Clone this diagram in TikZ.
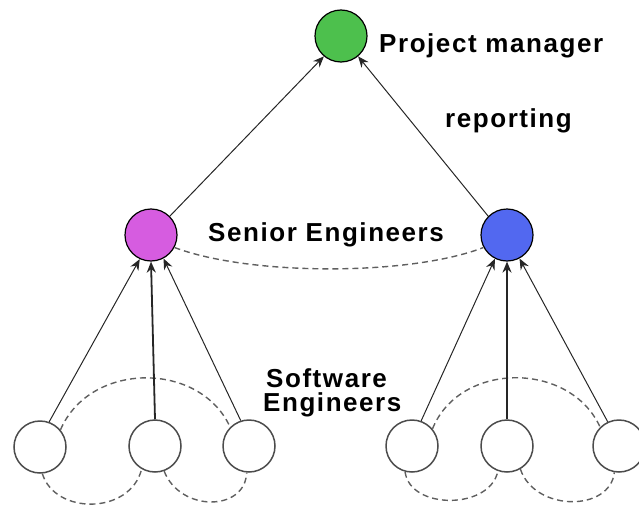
\documentclass[tikz,border=0pt]{standalone}
\usepackage{fontspec}
\newfontfamily\lab[LetterSpace=6]{Liberation Sans}
\usetikzlibrary{arrows.meta}
\definecolor{pmgreen}{RGB}{77,192,77}
\definecolor{semag}{RGB}{214,92,224}
\definecolor{seblue}{RGB}{82,104,240}
\definecolor{dashgray}{RGB}{95,95,95}
\tikzset{reporttip/.tip={Stealth[length=11pt,width=9pt]}}
\begin{document}
\begin{tikzpicture}[x=1pt,y=-1pt,
  person/.style={circle,draw=black,line width=1.2pt,minimum size=52pt,inner sep=0pt},
  worker/.style={circle,draw=black!70,line width=1.5pt,minimum size=52pt,inner sep=0pt,fill=white},
  report/.style={draw=black!85,line width=1pt,arrows={-reporttip}},
  reportthick/.style={report,line width=1.8pt},
  peer/.style={draw=dashgray,line width=1.4pt,dash pattern=on 6pt off 4pt},
  txt/.style={font=\lab\fontsize{26}{27}\selectfont\bfseries,inner sep=0pt}]
\useasboundingbox (0,0) rectangle (639,508);
% nodes
\node[person,fill=pmgreen] (pm) at (341,36) {};
\node[person,fill=semag] (sl) at (151,235) {};
\node[person,fill=seblue] (sr) at (507,235) {};
\node[worker] (a1) at (40,447) {};
\node[worker] (a2) at (155,446) {};
\node[worker] (a3) at (249,446) {};
\node[worker] (b1) at (412,446) {};
\node[worker] (b2) at (507,446) {};
\node[worker] (b3) at (619,446) {};
% labels
\node[txt,anchor=base west] (lpm) at (379,53) {Project manager};
\node[txt,anchor=base west] (lrep) at (445,128) {reporting};
\node[txt,anchor=base west] (lse) at (208,241) {Senior Engineers};
\node[txt,anchor=base west] (lsw1) at (266,387) {Software};
\node[txt,anchor=base west] (lsw2) at (263,411) {Engineers};
% dashed peer links
\draw[peer] (sl.-28) .. controls (250,276) and (410,276) .. (sr.-152);
\draw[peer] (a1.40) .. controls (90,361) and (200,361) .. (a3.135);
\draw[peer] (a1.-85) .. controls (55,515) and (130,515) .. (a2.-120);
\draw[peer] (a2.-70) .. controls (180,512) and (245,512) .. (a3.-95);
\draw[peer] (b1.40) .. controls (460,361) and (570,361) .. (b3.135);
\draw[peer] (b1.-105) .. controls (410,510) and (490,510) .. (b2.-110);
\draw[peer] (b2.-60) .. controls (535,512) and (610,512) .. (b3.-100);
% reporting arrows
\draw[report] (sl.45) -- (pm.-130);
\draw[report] (sr.135) -- (pm.-50);
\draw[report] (a1.70) -- (sl.-115);
\draw[reportthick] (a2.90) -- (sl.-90);
\draw[report] (a3.108) -- (sl.-62);
\draw[report] (b1.70) -- (sr.-117);
\draw[reportthick] (b2.90) -- (sr.-90);
\draw[report] (b3.115) -- (sr.-62);
\end{tikzpicture}
\end{document}
